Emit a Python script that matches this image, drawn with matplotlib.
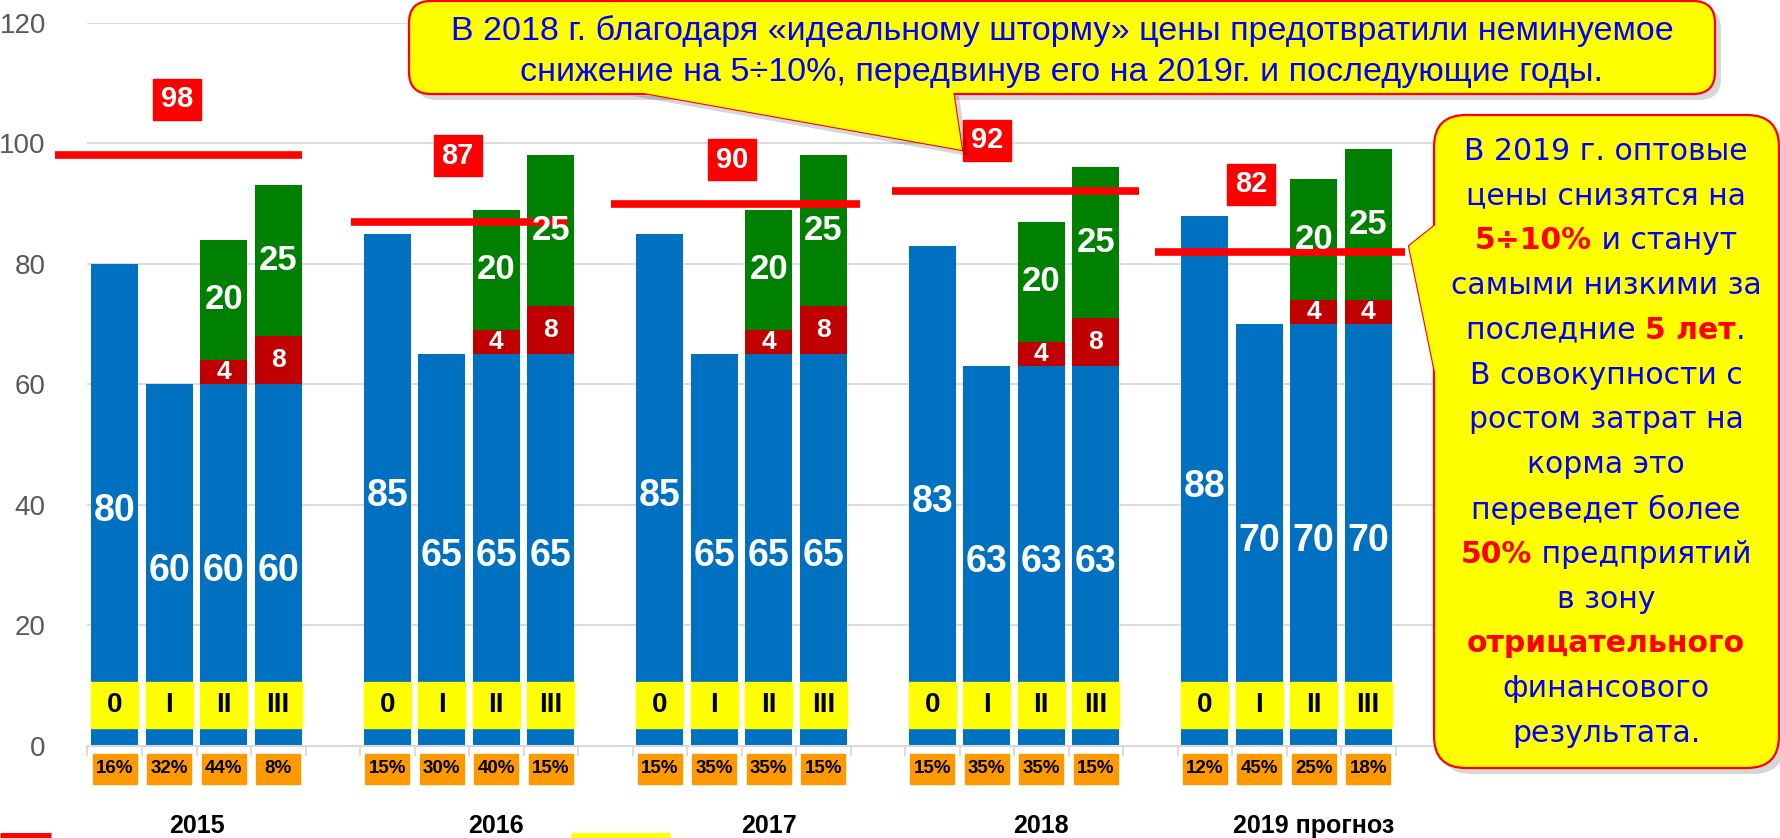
import matplotlib
matplotlib.use("Agg")
import matplotlib.pyplot as plt
import numpy as np
from matplotlib.patches import Rectangle, FancyBboxPatch, Polygon
from matplotlib.offsetbox import TextArea, HPacker, AnnotationBbox

# данные
years = ["2015", "2016", "2017", "2018", "2019 прогноз"]
groups = ["0", "I", "II", "III"]
base = [[80, 60, 60, 60], [85, 65, 65, 65], [85, 65, 65, 65], [83, 63, 63, 63], [88, 70, 70, 70]]
extra_red = [[0, 0, 4, 8], [0, 0, 4, 8], [0, 0, 4, 8], [0, 0, 4, 8], [0, 0, 4, 4]]
extra_green = [[0, 0, 20, 25], [0, 0, 20, 25], [0, 0, 20, 25], [0, 0, 20, 25], [0, 0, 20, 25]]
shares = [["16%", "32%", "44%", "8%"], ["15%", "30%", "40%", "15%"], ["15%", "35%", "35%", "15%"],
          ["15%", "35%", "35%", "15%"], ["12%", "45%", "25%", "18%"]]
price = [98, 87, 90, 92, 82]

BLUE = "#0070C0"
DRED = "#C00000"
GREEN = "#008000"
RED = "#FF0000"
YEL = "#FFFF00"
ORANGE = "#FF9900"
TXTBLUE = "#0000FF"

plt.rcParams['font.family'] = ['Liberation Sans', 'DejaVu Sans']

W, H = 1781, 838
fig = plt.figure(figsize=(W / 100, H / 100), dpi=100)
ax = fig.add_axes([87.5 / W, 1 - 746 / H, 1362.5 / W, 723.3 / H])
ax.set_xlim(-0.5, 24.5)
ax.set_ylim(0, 120)
ax.set_yticks(range(0, 121, 20))
ax.tick_params(axis='y', length=0, labelsize=20, labelcolor='#595959', pad=30)
ax.set_xticks(np.arange(-0.5, 25, 1))
ax.set_xticklabels([])
ax.tick_params(axis='x', length=7, width=1.3, color='#D9D9D9')
ax.grid(axis='y', color='#D9D9D9', lw=1.3)
ax.set_axisbelow(True)
for s in ['left', 'top', 'right']:
    ax.spines[s].set_visible(False)
ax.spines['bottom'].set_color('#D9D9D9')
ax.spines['bottom'].set_linewidth(1.5)

bw = 0.86
for g in range(5):
    x = 5 * g + np.arange(4)
    b = np.array(base[g])
    r = np.array(extra_red[g])
    gr = np.array(extra_green[g])
    ax.bar(x, b, width=bw, color=BLUE, zorder=2)
    ax.bar(x, r, bottom=b, width=bw, color=DRED, zorder=2)
    ax.bar(x, gr, bottom=b + r, width=bw, color=GREEN, zorder=2)
    for k in range(4):
        ax.text(x[k], b[k] / 2 - 1, str(b[k]), color='white', fontsize=27, fontweight='bold',
                ha='center', va='center', zorder=5)
        if r[k] > 0:
            ax.text(x[k], b[k] + r[k] / 2, str(r[k]), color='white', fontsize=19, fontweight='bold',
                    ha='center', va='center', zorder=5)
        if gr[k] > 0:
            ax.text(x[k], b[k] + r[k] + gr[k] / 2, str(gr[k]), color='white', fontsize=25,
                    fontweight='bold', ha='center', va='center', zorder=5)
        # метки групп
        ax.add_patch(Rectangle((x[k] - bw / 2, 3), bw, 7.7, color=YEL, zorder=3))
        ax.text(x[k], 6.85, groups[k], fontsize=20, fontweight='bold', ha='center', va='center', zorder=5)
        # доли
        ax.add_patch(Rectangle((x[k] - 0.4, -6.3), 0.8, 5.0, color=ORANGE, clip_on=False, zorder=3))
        ax.text(x[k], -3.8, shares[g][k], fontsize=13.5, fontweight='bold', ha='center', va='center',
                clip_on=False, zorder=5)

year_x = [1.5, 7, 12, 17, 22]
for g in range(5):
    ax.text(year_x[g], -13.3, years[g], fontsize=18, fontweight='bold', ha='center', va='center',
            clip_on=False)

# цены
line_x = [(-1.1, 3.44), (4.33, 8.29), (9.1, 13.67), (14.27, 18.8), (19.08, 23.67)]
lab_pos = [(1.15, 107.3), (6.29, 97.9), (11.33, 97.3), (16.0, 100.5), (20.85, 93.2)]
for g in range(5):
    ax.plot(line_x[g], [price[g], price[g]], color=RED, lw=5.5, solid_capstyle='butt',
            clip_on=False, zorder=4)
    lx, ly = lab_pos[g]
    ax.add_patch(Rectangle((lx - 0.44, ly - 3.4), 0.88, 6.8, color=RED, zorder=4, clip_on=False))
    ax.text(lx, ly, str(price[g]), color='white', fontsize=21, fontweight='bold',
            ha='center', va='center', zorder=5)

# выноски (в пикселях)
ov = fig.add_axes([0, 0, 1, 1])
ov.set_xlim(0, W)
ov.set_ylim(H, 0)
ov.axis('off')


def callout(x0, y0, x1, y1, tail, rad):
    sh = 6
    style = "round,pad=0,rounding_size=%d" % rad
    ov.add_patch(FancyBboxPatch((x0 + sh, y0 + sh), x1 - x0, y1 - y0, boxstyle=style,
                                fc='#000000', ec='none', alpha=0.16, clip_on=False))
    ov.add_patch(Polygon([(px + sh, py + sh) for px, py in tail], fc='#000000', ec='none',
                         alpha=0.16, clip_on=False))
    ov.add_patch(Polygon(tail, fc=YEL, ec=RED, lw=1.6, clip_on=False))
    ov.add_patch(FancyBboxPatch((x0, y0), x1 - x0, y1 - y0, boxstyle=style,
                                fc=YEL, ec=RED, lw=1.6, clip_on=False))
    ov.add_patch(Polygon(tail, fc=YEL, ec='none', clip_on=False))


callout(409, 1, 1715, 94, [(627, 90), (953, 90), (962, 150)], 22)
ov.text(1062, 31, "В 2018 г. благодаря «идеальному шторму» цены предотвратили неминуемое",
        color=TXTBLUE, fontsize=24.5, ha='center', va='center')
ov.text(1062, 72, "снижение на 5÷10%, передвинув его на 2019г. и последующие годы.",
        color=TXTBLUE, fontsize=24.5, ha='center', va='center')

callout(1434, 115, 1779, 768, [(1438, 223), (1409, 246), (1438, 387)], 32)
right_lines = [
    [("В 2019 г. оптовые", TXTBLUE, 'normal')],
    [("цены снизятся на", TXTBLUE, 'normal')],
    [("5÷10%", RED, 'bold'), (" и станут", TXTBLUE, 'normal')],
    [("самыми низкими за", TXTBLUE, 'normal')],
    [("последние ", TXTBLUE, 'normal'), ("5 лет", RED, 'bold'), (".", TXTBLUE, 'normal')],
    [("В совокупности с", TXTBLUE, 'normal')],
    [("ростом затрат на", TXTBLUE, 'normal')],
    [("корма это", TXTBLUE, 'normal')],
    [("переведет более", TXTBLUE, 'normal')],
    [("50%", RED, 'bold'), (" предприятий", TXTBLUE, 'normal')],
    [("в зону", TXTBLUE, 'normal')],
    [("отрицательного", RED, 'bold')],
    [("финансового", TXTBLUE, 'normal')],
    [("результата.", TXTBLUE, 'normal')],
]
for i, parts in enumerate(right_lines):
    areas = [TextArea(t, textprops=dict(color=c, fontweight=w, fontsize=21.5, family='DejaVu Sans'))
             for t, c, w in parts]
    box = HPacker(children=areas, align='baseline', pad=0, sep=0)
    ov.add_artist(AnnotationBbox(box, (1606, 151 + 44.8 * i), xycoords='data', frameon=False,
                                 box_alignment=(0.5, 0.5), pad=0))

# обрывки легенды
ov.plot([0, 51], [836, 836], color=RED, lw=5, solid_capstyle='butt', clip_on=False)
ov.plot([571, 670], [836, 836], color=YEL, lw=5, solid_capstyle='butt', clip_on=False)

fig.savefig("out.png", dpi=100)
